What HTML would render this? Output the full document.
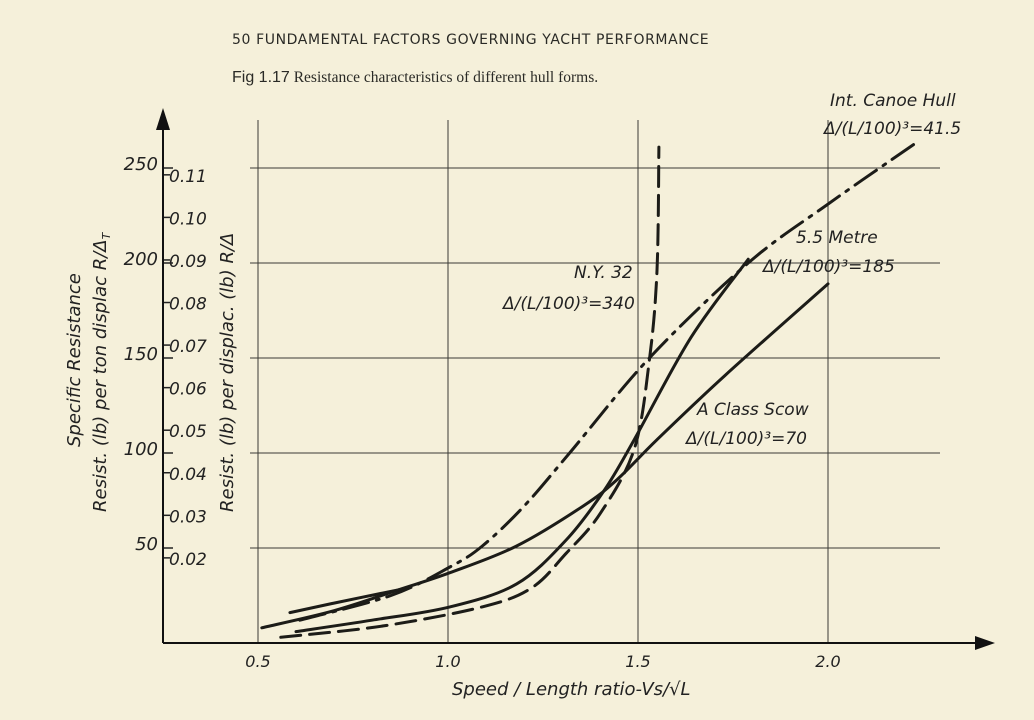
<!DOCTYPE html>
<html><head><meta charset="utf-8"><style>
body{margin:0;background:#f5f0da;}
svg{display:block;font-family:"DejaVu Sans","Liberation Sans",sans-serif;}
</style></head><body>
<svg id="chart" width="1034" height="720" viewBox="0 0 1034 720">
<rect width="1034" height="720" fill="#f5f0da"/>
<text x="232" y="44" font-size="14" fill="#2a2a26" letter-spacing="0.6">50  FUNDAMENTAL FACTORS GOVERNING YACHT PERFORMANCE</text>
<text x="232" y="82" font-size="15.5" fill="#2a2a26" font-family="Liberation Serif, serif"><tspan font-family="Liberation Sans, sans-serif" font-size="16">Fig 1.17</tspan>   Resistance characteristics of different hull forms.</text>
<g id="grid" stroke="#3a3a36" stroke-width="1"></g>
<g id="axes"></g>
<g id="series" fill="none" stroke="#1c1c18" stroke-width="3" stroke-linecap="round"></g>
<g font-style="italic" fill="#222" font-size="17">
<text x="830" y="106">Int. Canoe Hull</text>
<text x="824" y="134">Δ/(L/100)³=41.5</text>
<text x="796" y="243">5.5 Metre</text>
<text x="763" y="272">Δ/(L/100)³=185</text>
<text x="574" y="278">N.Y. 32</text>
<text x="503" y="309">Δ/(L/100)³=340</text>
<text x="697" y="415">A Class Scow</text>
<text x="686" y="444">Δ/(L/100)³=70</text>
<text x="452" y="695" font-size="18">Speed / Length ratio-Vs/√L</text>
<text transform="translate(80,447) rotate(-90)" font-size="18">Specific  Resistance</text>
<text transform="translate(106,512) rotate(-90)" font-size="18">Resist. (lb) per ton displac  R/Δ<tspan font-size="11" dy="4">T</tspan></text>
<text transform="translate(233,512) rotate(-90)" font-size="18">Resist. (lb) per displac. (lb)  R/Δ</text>
</g>
</svg>
<script>
const xTicks=[0.5,1.0,1.5,2.0];
const xTickLabels=["0.5","1.0","1.5","2.0"];
const yTicks=[50,100,150,200,250];
const y2Ticks=[0.02,0.03,0.04,0.05,0.06,0.07,0.08,0.09,0.10,0.11];
const canoeV=[0.61,0.85,1.005,1.09,1.2,1.32,1.53,1.79,2.0,2.23];
const canoeR=[12,25,40,51,72,100,150,200,231,263];
const metreV=[0.6,0.8,1.005,1.18,1.31,1.41,1.49,1.64,1.79];
const metreR=[6,12,19,31,54,80,107,161,202];
const scowV=[0.51,0.7,0.87,1.005,1.18,1.355,1.445,1.55,1.73,2.0];
const scowR=[8,17,28,37,51,72,86,107,141,189];
const shortV=[0.584,0.7,0.87];
const shortR=[16,21,28];
const nyV=[0.56,0.83,1.09,1.22,1.31,1.4,1.49,1.53,1.55,1.555];
const nyR=[3,9,19,29,47,68,102,149,196,261];
const X=v=>163+(v-0.25)*380, Y=r=>643-r*1.9;
const NS="http://www.w3.org/2000/svg";
function mk(t,a,p){const e=document.createElementNS(NS,t);for(const k in a)e.setAttribute(k,a[k]);p.appendChild(e);return e;}
const grid=document.getElementById('grid'),axes=document.getElementById('axes'),ser=document.getElementById('series');
yTicks.forEach(r=>{const l=mk('line',{x1:250,x2:940,y1:Y(r),y2:Y(r)},grid);


const t=mk('line',{x1:163,x2:173,y1:Y(r),y2:Y(r),stroke:'#222','stroke-width':1.5},axes);


const tx=mk('text',{x:158,y:Y(r)+2,'font-size':18,'font-style':'italic','text-anchor':'end',fill:'#222'},axes);tx.textContent=r;

});
y2Ticks.forEach(v=>{const y=Y(v*2240);const t=mk('line',{x1:163,x2:170,y1:y,y2:y,stroke:'#222','stroke-width':1.5},axes);


const tx=mk('text',{x:169,y:y+7,'font-size':17,'font-style':'italic',fill:'#222'},axes);tx.textContent=v.toFixed(2);

});
xTicks.forEach((v,i)=>{const l=mk('line',{x1:X(v),x2:X(v),y1:120,y2:643},grid);


const tx=mk('text',{x:X(v),y:667,'font-size':16,'font-style':'italic','text-anchor':'middle',fill:'#222'},axes);tx.textContent=xTickLabels[i];

});
const xa=mk('path',{d:'M163 643 H980',stroke:'#111','stroke-width':2},axes);


const xh=mk('path',{d:'M995 643 L975 636 L975 650Z',fill:'#111'},axes);


const ya=mk('path',{d:'M163 643 V125',stroke:'#111','stroke-width':2},axes);


const yh=mk('path',{d:'M163 108 L156 130 L170 130Z',fill:'#111'},axes);


function curve(vs,rs,dash,name){const p=vs.map((v,i)=>[X(v),Y(rs[i])]);
let d='M'+p[0][0]+' '+p[0][1];
for(let i=0;i<p.length-1;i++){const p0=p[i-1]||p[i],p1=p[i],p2=p[i+1],p3=p[i+2]||p2;
d+=' C'+(p1[0]+(p2[0]-p0[0])/6)+' '+(p1[1]+(p2[1]-p0[1])/6)+' '+(p2[0]-(p3[0]-p1[0])/6)+' '+(p2[1]-(p3[1]-p1[1])/6)+' '+p2[0]+' '+p2[1];}
const e=mk('path',{d:d},ser);if(dash)e.setAttribute('stroke-dasharray',dash);

}
curve(canoeV,canoeR,'26 8 3 8','canoe-curve');
curve(metreV,metreR,null,'metre-curve');
curve(scowV,scowR,null,'scow-curve');
curve(shortV,shortR,null,'scow-start-curve');
curve(nyV,nyR,'20 9','ny32-curve');
</script>
</body></html>
